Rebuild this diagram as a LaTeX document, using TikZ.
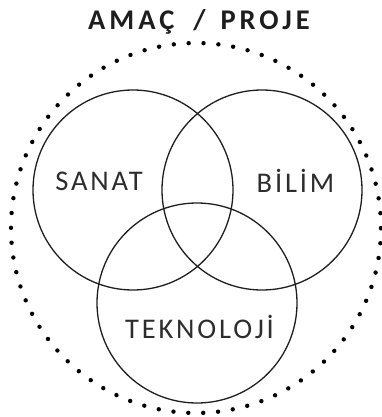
\documentclass[tikz,border=0pt]{standalone}
\usepackage{fontspec}
\setmainfont{Carlito}
\newfontfamily\vennfont[LetterSpace=10]{Carlito}
\newfontfamily\titlefont[LetterSpace=14]{Carlito}
\usepackage{xcolor}
\definecolor{venndark}{RGB}{30,30,30}
\definecolor{venntext}{RGB}{45,45,45}
\tikzset{
  venncircle/.style={draw=venndark, line width=1.3pt},
  vennlabel/.style={font=\vennfont\fontsize{28.5}{28.5}\selectfont, text=venntext, inner sep=0pt, anchor=base},
  dotring/.style={draw=black, line width=4.4pt, line cap=round, dash pattern=on 0pt off 14.9pt}
}

\begin{document}
\begin{tikzpicture}[x=1pt, y=-1pt]
  \useasboundingbox (0,0) rectangle (382,417);

  % Title
  \node[font=\titlefont\fontsize{28.5}{28.5}\selectfont\bfseries, text=venndark, inner sep=0pt, anchor=base] (title) at (199,30)
    {AMAÇ\hspace{19pt}/\hspace{15pt}PROJE};

  % Dotted outer ring
  \coordinate (ringc) at (196,228);
  \draw[dotring] (ringc) circle[radius=185pt];

  % The three sets
  \coordinate (sanatc) at (133,190);
  \coordinate (bilimc) at (262,190);
  \coordinate (teknc) at (197,303);
  \draw[venncircle] (sanatc) circle[radius=100pt];
  \draw[venncircle] (bilimc) circle[radius=100pt];
  \draw[venncircle] (teknc) circle[radius=100pt];

  % Labels
  \node[vennlabel] (sanat) at (99,190) {SANAT};
  \node[vennlabel] (bilim) at (295.5,192) {BİLİM};
  \node[vennlabel] (tekno) at (199.5,338) {TEKNOLOJİ};
\end{tikzpicture}
\end{document}
